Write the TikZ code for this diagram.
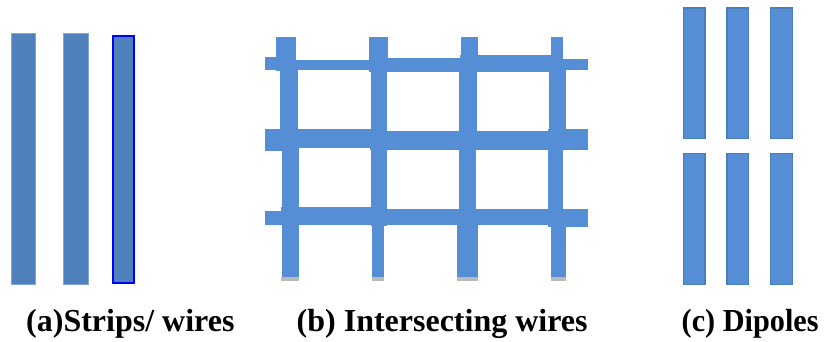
\documentclass[tikz,border=0pt]{standalone}
\usepackage{fontspec}
\setmainfont{Liberation Serif}
\definecolor{stripc}{HTML}{4F81BD}
\definecolor{gridc}{HTML}{558ED5}
\definecolor{dipfill}{HTML}{558ED5}
\definecolor{dipedge}{HTML}{4A7EBB}
\definecolor{pureblue}{HTML}{0000FF}
\newcommand\gbar[4]{\fill[gridc] (#1,#2) rectangle (#3,#4);}
\tikzset{
  strip/.style={fill=stripc, draw=stripc!70!white, line width=0.6pt},
  dipole/.style={fill=dipfill, draw=dipedge, line width=1.5pt},
  foot/.style={fill=gray!55},
  caption/.style={anchor=base west, inner sep=0pt, font=\fontsize{32}{32}\selectfont\bfseries}
}
\begin{document}
\begin{tikzpicture}[x=1pt,y=-1pt]
\useasboundingbox (0,0) rectangle (828,342);
% (a) strips
\draw[strip] (11,33.5) rectangle (35,284);
\draw[strip] (63.5,33.5) rectangle (88,284);
\fill[stripc] (111.7,34.7) rectangle (135.3,284);
\draw[pureblue, line width=2pt] (112.7,35.7) rectangle (134.3,283);
% (b) grid: vertical bars
\gbar{276}{37.3}{296.3}{71}
\gbar{280.3}{70}{297.7}{150}
\gbar{281.7}{148}{299.3}{277}
\gbar{369.3}{37.3}{388}{72}
\gbar{370.7}{70}{387.3}{226}
\gbar{371.7}{224}{384.3}{277}
\gbar{460.7}{37.3}{478}{72}
\gbar{459.3}{70}{476.7}{150}
\gbar{458.7}{148}{476.3}{226}
\gbar{457.3}{224}{478.3}{277}
\gbar{551}{37.3}{563.3}{72}
\gbar{549}{70}{566}{150}
\gbar{548.3}{148}{563.3}{226}
\gbar{551}{224}{566}{277}
% horizontal bars
\gbar{265}{57.3}{278}{70}
\gbar{276}{60}{371}{70}
\gbar{369}{58}{461}{72.3}
\gbar{460}{55.3}{551}{72.3}
\gbar{549}{59.3}{588.3}{70}
\gbar{265}{129.3}{282}{151}
\gbar{280}{129.3}{372}{147.7}
\gbar{370}{131}{550}{150}
\gbar{548}{129.3}{588.3}{150}
\gbar{265}{211}{283}{225}
\gbar{281}{207}{372}{225}
\gbar{370}{209}{550}{225}
\gbar{548}{209.3}{588.3}{226.7}
% feet
\fill[foot] (280.7,277) rectangle (299.3,280.5);
\fill[foot] (371.7,277) rectangle (384.3,280.5);
\fill[foot] (457.3,277) rectangle (478.3,280.5);
\fill[foot] (551,277) rectangle (566,280.5);
% (c) dipoles
\foreach \xa/\xb in {683.5/705, 727/748.5, 770.5/792.3}{
  \draw[dipole] (\xa,8) rectangle (\xb,138.6);
  \draw[dipole] (\xa,153.4) rectangle (\xb,284.3);
}
% captions
\node[caption] (capa) at (26,331.7) {(a)Strips/ wires};
\node[caption] (capb) at (296.5,331.7) {(b) Intersecting wires};
\node[caption] (capc) at (681.5,331.7) {\scalebox{0.945}[1]{(c) Dipoles}};
\end{tikzpicture}
\end{document}
